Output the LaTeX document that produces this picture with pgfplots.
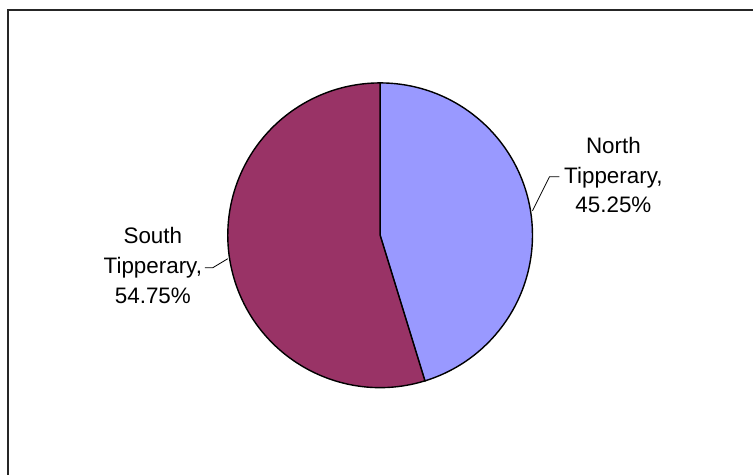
\documentclass[border=0pt]{standalone}
\usepackage{fontspec}
\setmainfont{Liberation Sans}
\usepackage{pgfplots}
\pgfplotsset{compat=1.18}
\definecolor{northc}{HTML}{9999FF}
\definecolor{southc}{HTML}{993366}

% shares of the two ridings (percent)
\newcommand\northpct{45.25}
\newcommand\southpct{54.75}

\begin{document}
\begin{tikzpicture}
\begin{axis}[
  width=754bp, height=475bp, scale only axis,
  xmin=0, xmax=754, ymin=0, ymax=475,
  hide axis, clip=false]
\path (axis cs:0,0) rectangle (axis cs:754,475);
% chart area frame
\draw[line width=1.5bp, black!85] (axis cs:8,0) -- (axis cs:8,465) -- (axis cs:754,465);
% slice angles, clockwise from twelve o'clock
\pgfmathsetmacro\angN{90-3.6*\northpct}
\pgfmathsetmacro\angS{\angN-3.6*\southpct}
\filldraw[fill=northc, draw=black, line width=1.4bp]
  (axis cs:380.5,239.5) -- ++(90:152.5bp)
  arc[start angle=90, end angle=\angN, radius=152.5bp] -- cycle;
\filldraw[fill=southc, draw=black, line width=1.4bp]
  (axis cs:380.5,239.5) -- ++(\angN:152.5bp)
  arc[start angle=\angN, end angle=\angS, radius=152.5bp] -- cycle;
% leader lines
\draw[line width=0.8bp] (axis cs:560,298) -- (axis cs:550,298) -- (axis cs:533,264);
\draw[line width=0.8bp] (axis cs:205,207) -- (axis cs:213,207) -- (axis cs:228,216);
% data labels
\node[align=center, inner sep=0pt, font=\fontsize{22.5}{30}\selectfont] at (axis cs:614,299.7)
  {North\\Tipperary,\\\northpct\%};
\node[align=center, inner sep=0pt, font=\fontsize{22.5}{30}\selectfont] at (axis cs:153,209.5)
  {South\\Tipperary,\\\southpct\%};
\end{axis}
\end{tikzpicture}
\end{document}
